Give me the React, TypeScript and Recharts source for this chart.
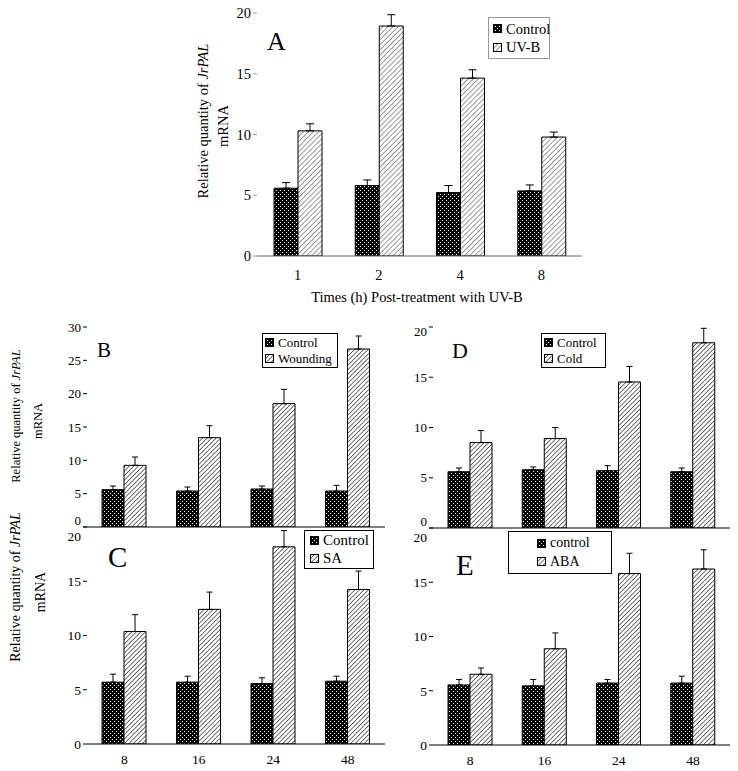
import React from "react";
import { BarChart, Bar, XAxis, YAxis, ErrorBar, ReferenceArea } from "recharts";

const FONT = '"Liberation Serif", "Times New Roman", serif';

// panel A: UV-B time course
const timesA = ["1", "2", "4", "8"];
const controlA = [5.58, 5.8, 5.22, 5.36];
const controlErrA = [0.46, 0.46, 0.58, 0.49];
const uvbA = [10.3, 18.93, 14.64, 9.79];
const uvbErrA = [0.58, 0.93, 0.69, 0.41];

// panels B-E share the same sampling times
const times = ["8", "16", "24", "48"];

const controlB = [5.6, 5.4, 5.7, 5.4];
const controlErrB = [0.55, 0.6, 0.45, 0.85];
const woundB = [9.25, 13.4, 18.5, 26.7];
const woundErrB = [1.25, 1.8, 2.15, 1.95];

const controlC = [5.7, 5.7, 5.57, 5.79];
const controlErrC = [0.74, 0.55, 0.53, 0.46];
const saC = [10.37, 12.41, 18.17, 14.24];
const saErrC = [1.55, 1.59, 1.5, 1.7];

const controlD = [5.6, 5.8, 5.7, 5.6];
const controlErrD = [0.37, 0.27, 0.5, 0.37];
const coldD = [8.5, 8.9, 14.53, 18.43];
const coldErrD = [1.2, 1.1, 1.54, 1.44];

const controlE = [5.54, 5.45, 5.71, 5.71];
const controlErrE = [0.5, 0.59, 0.33, 0.63];
const abaE = [6.52, 8.87, 15.8, 16.22];
const abaErrE = [0.58, 1.46, 1.87, 1.77];

const ticks20 = [0, 5, 10, 15, 20];
const ticks30 = [0, 5, 10, 15, 20, 25, 30];

// only the upper whisker is drawn, so the lower error is 0
function rows(cats: string[], ctrl: number[], ctrlErr: number[], trt: number[], trtErr: number[]) {
  return cats.map((t, i) => ({
    t,
    ctrl: ctrl[i],
    ctrlErr: [0, ctrlErr[i]],
    trt: trt[i],
    trtErr: [0, trtErr[i]],
  }));
}

// y tick label; stacked panels nudge their end labels apart
function yTick(fontSize: number, shift: Record<number, number>) {
  return (props: any) => {
    const { x, y, payload } = props;
    return (
      <text
        x={x}
        y={y + (shift[payload.value] ?? 0)}
        dy="0.355em"
        textAnchor="end"
        fontSize={fontSize}
        fontFamily={FONT}
        fill="#000"
      >
        {payload.value}
      </text>
    );
  };
}

type PanelProps = {
  data: ReturnType<typeof rows>;
  left: number;
  top: number;
  width: number;
  height: number;
  margin: { top: number; right: number; bottom: number; left: number };
  yWidth: number;
  xHeight: number;
  domain: [number, number];
  ticks: number[];
  showX: boolean;
  barSize: number;
  hatch: string;
  frame: string;
  axis: string;
  fontSize: number;
  cap: number;
  labelGap: number;
  yShift?: Record<number, number>;
};

function Panel(p: PanelProps) {
  return (
    <div style={{ position: "absolute", left: p.left, top: p.top }}>
      <BarChart
        width={p.width}
        height={p.height}
        data={p.data}
        margin={p.margin}
        barGap={0}
        barSize={p.barSize}
      >
        <XAxis
          xAxisId="bounds"
          type="number"
          domain={[0, 4]}
          ticks={[0, 1, 2, 3, 4]}
          allowDataOverflow
          height={0}
          mirror
          axisLine={false}
          tick={false}
          tickSize={4}
          tickLine={{ stroke: p.axis }}
        />
        <XAxis
          dataKey="t"
          height={p.xHeight}
          axisLine={{ stroke: p.axis }}
          tickLine={false}
          tickSize={p.labelGap}
          interval={0}
          tick={
            p.showX
              ? { fontSize: p.fontSize, fill: "#000", fontFamily: FONT }
              : false
          }
        />
        <YAxis
          width={p.yWidth}
          domain={p.domain}
          ticks={p.ticks}
          allowDataOverflow
          interval={0}
          axisLine={false}
          tickLine={{ stroke: p.frame }}
          tickSize={4}
          tick={yTick(p.fontSize, p.yShift ?? {})}
        />
        <ReferenceArea fill="none" stroke={p.frame} ifOverflow="visible" />
        <Bar
          dataKey="ctrl"
          fill="url(#dots)"
          stroke="#000"
          strokeWidth={1}
          isAnimationActive={false}
        >
          <ErrorBar dataKey="ctrlErr" direction="y" width={p.cap} stroke="#000" strokeWidth={1} />
        </Bar>
        <Bar
          dataKey="trt"
          fill={`url(#${p.hatch})`}
          stroke="#000"
          strokeWidth={1}
          isAnimationActive={false}
        >
          <ErrorBar dataKey="trtErr" direction="y" width={p.cap} stroke="#000" strokeWidth={1} />
        </Bar>
      </BarChart>
    </div>
  );
}

type LegendProps = {
  left: number;
  top: number;
  width: number;
  height: number;
  border: string;
  fontSize: number;
  padLeft: number;
  labels: string[];
  hatch: string;
};

function LegendBox(p: LegendProps) {
  const fills = ["url(#dots)", `url(#${p.hatch})`];
  return (
    <div
      style={{
        position: "absolute",
        left: p.left,
        top: p.top,
        width: p.width,
        height: p.height,
        boxSizing: "border-box",
        border: `1px solid ${p.border}`,
        background: "#fff",
        paddingLeft: p.padLeft,
        display: "flex",
        flexDirection: "column",
        justifyContent: "space-evenly",
        fontFamily: FONT,
        fontSize: p.fontSize,
        lineHeight: 1,
      }}
    >
      {p.labels.map((label, i) => (
        <div key={label} style={{ display: "flex", alignItems: "center", gap: 4 }}>
          <svg width={9} height={9} style={{ flex: "none" }}>
            <rect x={0.5} y={0.5} width={8} height={8} fill={fills[i]} stroke="#000" />
          </svg>
          <span>{label}</span>
        </div>
      ))}
    </div>
  );
}

function YTitle({ x, y, gap, size }: { x: number; y: number; gap: number; size: number }) {
  return (
    <g fontFamily={FONT} fontSize={size} fill="#000" textAnchor="middle">
      <text transform={`translate(${x},${y}) rotate(-90)`}>
        Relative quantity of <tspan fontStyle="italic">JrPAL</tspan>
      </text>
      <text transform={`translate(${x + gap},${y + 5}) rotate(-90)`}>mRNA</text>
    </g>
  );
}

export default function App() {
  const dataA = rows(timesA, controlA, controlErrA, uvbA, uvbErrA);
  const dataB = rows(times, controlB, controlErrB, woundB, woundErrB);
  const dataC = rows(times, controlC, controlErrC, saC, saErrC);
  const dataD = rows(times, controlD, controlErrD, coldD, coldErrD);
  const dataE = rows(times, controlE, controlErrE, abaE, abaErrE);

  return (
    <div
      style={{
        position: "absolute",
        left: 0,
        top: 0,
        width: 738,
        height: 771,
        background: "#fff",
        fontFamily: FONT,
        overflow: "hidden",
      }}
    >
      <svg width={0} height={0} style={{ position: "absolute" }}>
        <defs>
          <pattern id="dots" width={4} height={4} patternUnits="userSpaceOnUse">
            <rect width={4} height={4} fill="#000" />
            <rect x={0} y={0} width={1} height={1} fill="#fff" />
            <rect x={2} y={2} width={1} height={1} fill="#fff" />
          </pattern>
          <pattern id="hatchA" width={3.6} height={3.6} patternUnits="userSpaceOnUse" patternTransform="rotate(45)">
            <rect width={3.6} height={3.6} fill="#fff" />
            <line x1={0} y1={0} x2={0} y2={3.6} stroke="#333" strokeWidth={1} />
          </pattern>
          <pattern id="hatchB" width={3.2} height={3.2} patternUnits="userSpaceOnUse" patternTransform="rotate(45)">
            <rect width={3.2} height={3.2} fill="#fff" />
            <line x1={0} y1={0} x2={0} y2={3.2} stroke="#000" strokeWidth={1.1} />
          </pattern>
        </defs>
      </svg>

      <Panel
        data={dataA}
        left={190}
        top={0}
        width={400}
        height={290}
        margin={{ top: 13, right: 8, bottom: 4, left: 27 }}
        yWidth={40}
        xHeight={30}
        domain={[0, 20]}
        ticks={ticks20}
        showX
        barSize={24}
        hatch="hatchA"
        frame="#999"
        axis="#666"
        fontSize={14.5}
        cap={4}
        labelGap={12}
      />
      <Panel
        data={dataB}
        left={40}
        top={315}
        width={350}
        height={230}
        margin={{ top: 12, right: 5, bottom: 8, left: 7 }}
        yWidth={40}
        xHeight={10}
        domain={[0, 30]}
        ticks={ticks30}
        showX={false}
        barSize={22}
        hatch="hatchB"
        frame="#000"
        axis="#000"
        fontSize={13}
        cap={3}
        labelGap={8}
        yShift={{ 0: -7 }}
      />
      <Panel
        data={dataC}
        left={40}
        top={515}
        width={350}
        height={256}
        margin={{ top: 12, right: 5, bottom: 2, left: 7 }}
        yWidth={40}
        xHeight={25}
        domain={[0, 20]}
        ticks={ticks20}
        showX
        barSize={22}
        hatch="hatchB"
        frame="#000"
        axis="#000"
        fontSize={13.5}
        cap={3}
        labelGap={8}
        yShift={{ 20: 9 }}
      />
      <Panel
        data={dataD}
        left={385}
        top={315}
        width={350}
        height={230}
        margin={{ top: 12, right: 5, bottom: 7, left: 8 }}
        yWidth={40}
        xHeight={10}
        domain={[0, 20]}
        ticks={ticks20}
        showX={false}
        barSize={22}
        hatch="hatchB"
        frame="#000"
        axis="#000"
        fontSize={13}
        cap={3}
        labelGap={8}
        yShift={{ 0: -7, 20: 4 }}
      />
      <Panel
        data={dataE}
        left={385}
        top={515}
        width={350}
        height={256}
        margin={{ top: 13, right: 5, bottom: 2, left: 8 }}
        yWidth={40}
        xHeight={24}
        domain={[0, 20]}
        ticks={ticks20}
        showX
        barSize={22}
        hatch="hatchB"
        frame="#000"
        axis="#000"
        fontSize={13.5}
        cap={3}
        labelGap={8}
        yShift={{ 20: 9 }}
      />

      <LegendBox left={488} top={17} width={62} height={42} border="#999" fontSize={14.5} padLeft={4} labels={["Control", "UV-B"]} hatch="hatchA" />
      <LegendBox left={262} top={333} width={76} height={35} border="#000" fontSize={13} padLeft={2} labels={["Control", "Wounding"]} hatch="hatchB" />
      <LegendBox left={304} top={530} width={70} height={39} border="#000" fontSize={15} padLeft={5} labels={["Control", "SA"]} hatch="hatchB" />
      <LegendBox left={541} top={333} width={65} height={35} border="#000" fontSize={13} padLeft={2} labels={["Control", "Cold"]} hatch="hatchB" />
      <LegendBox left={508} top={531} width={104} height={43} border="#000" fontSize={14} padLeft={28} labels={["control", "ABA"]} hatch="hatchB" />

      <svg width={738} height={771} style={{ position: "absolute", left: 0, top: 0, pointerEvents: "none" }}>
        <g fontFamily={FONT} fill="#000">
          <text x={267} y={50} fontSize={26}>A</text>
          <text x={97} y={357} fontSize={21}>B</text>
          <text x={108} y={567} fontSize={29}>C</text>
          <text x={452} y={358} fontSize={22}>D</text>
          <text x={456} y={575} fontSize={29}>E</text>
          <text x={417} y={302} fontSize={14.5} textAnchor="middle">
            Times (h) Post-treatment with UV-B
          </text>
        </g>
        <YTitle x={208} y={121} gap={20} size={14.5} />
        <YTitle x={20} y={416} gap={22} size={12.5} />
        <YTitle x={20} y={587} gap={25} size={14} />
      </svg>
    </div>
  );
}
